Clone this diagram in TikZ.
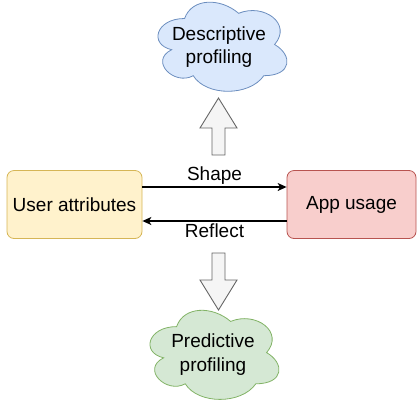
\documentclass[tikz,border=0pt]{standalone}
\usepackage{fontspec}
\setmainfont{Liberation Sans}
\usetikzlibrary{arrows.meta}
\definecolor{bluefill}{HTML}{DAE8FC}
\definecolor{bluedraw}{HTML}{6C8EBF}
\definecolor{greenfill}{HTML}{D5E8D4}
\definecolor{greendraw}{HTML}{82B366}
\definecolor{yellowfill}{HTML}{FFF2CC}
\definecolor{yellowdraw}{HTML}{D6B656}
\definecolor{redfill}{HTML}{F8CECC}
\definecolor{reddraw}{HTML}{B85450}
\definecolor{greyfill}{HTML}{F5F5F5}
\definecolor{greydraw}{HTML}{666666}
\newcommand\myclouddraw[5]{%
\begin{scope}[shift={(#1,#2)},x=#3pt,y=-#4pt]
\draw[#5] (0.25,0.25) .. controls (0.05,0.25) and (0,0.5) .. (0.16,0.55)
 .. controls (0,0.66) and (0.18,0.9) .. (0.31,0.8)
 .. controls (0.4,1) and (0.7,1) .. (0.8,0.8)
 .. controls (1,0.8) and (1,0.6) .. (0.875,0.5)
 .. controls (1,0.3) and (0.8,0.1) .. (0.625,0.2)
 .. controls (0.5,0.05) and (0.3,0.05) .. (0.25,0.25) -- cycle;
\end{scope}}
\begin{document}
\begin{tikzpicture}[x=1pt,y=-1pt,
  every node/.style={font=\fontsize{19}{23.5}\selectfont},
  box/.style={draw, rounded corners=7pt, line width=0.8pt, minimum height=68pt, inner sep=0pt},
  blockarrow/.style={draw=greydraw, fill=greyfill, line width=0.9pt, line join=miter},
  conn/.style={line width=1.2pt, -{Stealth[length=9pt,width=8pt,inset=2.5pt]}},
  cloudtext/.style={align=center, inner sep=0pt}]
\useasboundingbox (0,0) rectangle (417,400);
% clouds
\myclouddraw{148.6}{-7.5}{144}{104}{fill=bluefill, draw=bluedraw, line width=0.8pt}
\myclouddraw{140.6}{300.6}{144}{104}{fill=greenfill, draw=greendraw, line width=0.8pt}
\node[cloudtext] (desc) at (219,47) {Descriptive\\profiling};
\node[cloudtext] (pred) at (213,354.5) {Predictive\\profiling};
% boxes
\node[box, fill=yellowfill, draw=yellowdraw, minimum width=135pt] (ua) at (74.5,204.5) {User attributes};
\node[box, fill=redfill, draw=reddraw, minimum width=129pt] (app) at (351.5,204.5) {App usage};
% connectors
\draw[conn] ([yshift=17.5pt]ua.east) -- node[above=-1pt] (shapelbl) {Shape} ([yshift=17.5pt]app.west);
\draw[conn] ([yshift=-16.5pt]app.west) -- node[below=-1pt] (reflbl) {Reflect} ([yshift=-16.5pt]ua.east);
% block arrows
\draw[blockarrow] (212,155) -- (212,128) -- (200,128) -- (218.5,98) -- (237,128) -- (225,128) -- (225,155) -- cycle;
\draw[blockarrow] (212,253) -- (212,280) -- (200,280) -- (218.5,310) -- (237,280) -- (225,280) -- (225,253) -- cycle;
\end{tikzpicture}
\end{document}
